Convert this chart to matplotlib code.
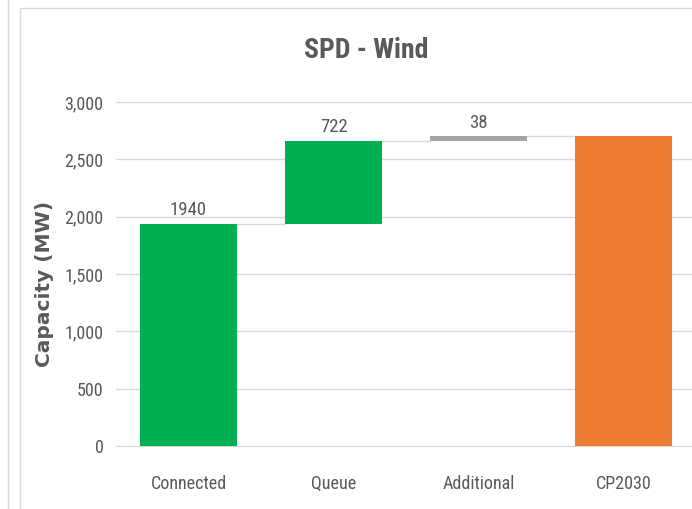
import matplotlib.pyplot as plt
from matplotlib.patches import Rectangle
from matplotlib.lines import Line2D

categories = ['Connected', 'Queue', 'Additional', 'CP2030']
deltas = [1940, 722, 38]
total = 2700
labels = ['1940', '722', '38', '']

plt.rcParams['font.family'] = ['Roboto Condensed', 'DejaVu Sans']

W, H = 692, 509
fig = plt.figure(figsize=(W / 100, H / 100), dpi=100)

# frame of the screenshot card
fig.add_artist(Line2D([8 / W, 8 / W], [0, 1], color='#d9d9d9', lw=1))
fig.add_artist(Rectangle((20 / W, -0.1), 1.2, 1.1 - 8 / H, fill=False,
                         edgecolor='#d9d9d9', lw=1))

ax = fig.add_axes([116 / W, 1 - 446 / H, (692 - 116) / W, (446 - 102) / H])

grey = '#595959'
width = 0.67
bottoms = [0, deltas[0], deltas[0] + deltas[1]]
colors = ['#00b050', '#00b050', '#a5a5a5']

for i, (d, b) in enumerate(zip(deltas, bottoms)):
    ax.bar(i, d, bottom=b, width=width, color=colors[i], zorder=3)
ax.bar(3, total, width=width, color='#ed7d31', zorder=3)

# connectors
tops = [deltas[0], deltas[0] + deltas[1], total]
for i, t in enumerate(tops):
    ax.plot([i + width / 2, i + 1 - width / 2], [t, t], color='#d9d9d9', lw=1, zorder=2)

for i, (lab, t) in enumerate(zip(labels, tops + [total])):
    if lab:
        ax.text(i, t + 40, lab, ha='center', va='bottom', fontsize=13.5, color=grey)

ax.set_xlim(-0.5, 3.47)
ax.set_ylim(0, 3000)
ax.set_yticks(range(0, 3001, 500))
ax.set_yticklabels([f'{v:,}' for v in range(0, 3001, 500)])
ax.set_xticks(range(4))
ax.set_xticklabels(categories)
ax.tick_params(axis='both', length=0, labelsize=13, labelcolor=grey)
ax.tick_params(axis='x', pad=21)
ax.tick_params(axis='y', pad=9)
ax.grid(axis='y', color='#d9d9d9', lw=1, zorder=0)
for s in ['top', 'right', 'left']:
    ax.spines[s].set_visible(False)
ax.spines['bottom'].set_color('#d9d9d9')

ax.set_ylabel('Capacity (MW)', family='DejaVu Sans', fontweight='bold',
              fontsize=14.5, color=grey)
ax.yaxis.set_label_coords(-0.108, 0.47)

fig.text(366 / W, 1 - 50 / H, 'SPD - Wind', ha='center', va='center',
         fontsize=20, color=grey, fontweight='bold')

fig.savefig('out.png', dpi=100)
